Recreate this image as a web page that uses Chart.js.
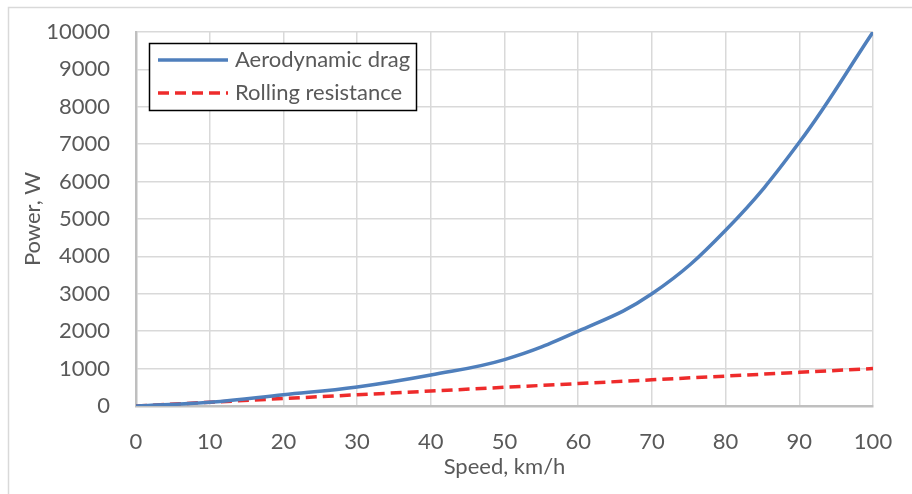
<!DOCTYPE html>
<html>
<head>
<meta charset="utf-8">
<script src="https://cdn.jsdelivr.net/npm/chart.js@4"></script>
<style>
  html, body { margin: 0; padding: 0; background: #ffffff; }
  #wrap { width: 912px; height: 494px; }
</style>
</head>
<body>
<div id="wrap"><canvas id="powerChart" width="912" height="494"></canvas></div>
<script>
// Chart data
const speeds = [0, 10, 20, 30, 40, 50, 60, 70, 80, 90, 100];
const aeroDrag = [0, 100, 300, 510, 830, 1240, 2000, 3000, 4700, 7050, 10000];
const rollingRes = [0, 100, 200, 300, 400, 500, 600, 700, 800, 900, 1000];

const FONT = "Lato, 'Open Sans', sans-serif";
const TEXT_COLOR = '#595959';

function toPoints(values) {
    return speeds.map((s, i) => ({ x: s, y: values[i] }));
}

// Frame around the whole chart plus the boxed legend inside the plot
const framePlugin = {
    id: 'frame',
    beforeDraw(chart) {
        const ctx = chart.ctx;
        ctx.save();
        ctx.strokeStyle = '#d9d9d9';
        ctx.lineWidth = 1.5;
        ctx.beginPath();
        ctx.moveTo(8.5, 494);
        ctx.lineTo(8.5, 7.5);
        ctx.lineTo(912, 7.5);
        ctx.stroke();
        ctx.restore();
    },
    afterDraw(chart) {
        const ctx = chart.ctx;
        const box = { x: 149.5, y: 43.5, w: 267, h: 67 };
        ctx.save();
        ctx.fillStyle = '#ffffff';
        ctx.fillRect(box.x, box.y, box.w, box.h);
        ctx.strokeStyle = '#000000';
        ctx.lineWidth = 1.5;
        ctx.strokeRect(box.x, box.y, box.w, box.h);
        ctx.font = '22px ' + FONT;
        ctx.textBaseline = 'middle';
        ctx.fillStyle = TEXT_COLOR;
        chart.data.datasets.forEach((ds, i) => {
            const y = 60 + i * 33;
            ctx.beginPath();
            ctx.strokeStyle = ds.borderColor;
            ctx.lineWidth = ds.borderWidth;
            ctx.setLineDash(ds.borderDash || []);
            ctx.moveTo(158, y);
            ctx.lineTo(228, y);
            ctx.stroke();
            ctx.setLineDash([]);
            ctx.fillText(ds.label, 235, y);
        });
        ctx.restore();
    }
};

const chart = new Chart(document.getElementById('powerChart'), {
    type: 'line',
    data: {
        datasets: [{
            label: 'Aerodynamic drag',
            data: toPoints(aeroDrag),
            borderColor: '#4f7fbc',
            borderWidth: 3.5,
            pointRadius: 0,
            tension: 0.4,
            fill: false
        }, {
            label: 'Rolling resistance',
            data: toPoints(rollingRes),
            borderColor: '#ee2b2b',
            borderWidth: 3.5,
            borderDash: [11, 6],
            pointRadius: 0,
            tension: 0,
            fill: false
        }]
    },
    options: {
        responsive: false,
        animation: false,
        layout: {
            padding: { left: 0, top: 32, right: 39, bottom: 0 }
        },
        plugins: {
            legend: { display: false },
            tooltip: { enabled: false }
        },
        scales: {
            x: {
                type: 'linear',
                min: 0,
                max: 100,
                afterFit(scale) {
                    scale.height = 88;
                    scale.paddingLeft = 0;
                    scale.paddingRight = 0;
                },
                ticks: {
                    stepSize: 10,
                    color: TEXT_COLOR,
                    padding: 23,
                    font: { family: FONT, size: 22 },
                    callback: (value) => String(value)
                },
                grid: { color: '#d9d9d9', lineWidth: 1.5, drawTicks: false },
                border: { color: '#bfbfbf', width: 2.5 },
                title: {
                    display: true,
                    text: 'Speed, km/h',
                    color: TEXT_COLOR,
                    font: { family: FONT, size: 22 },
                    padding: { top: 0, bottom: 14 }
                }
            },
            y: {
                min: 0,
                max: 10000,
                afterFit(scale) {
                    scale.width = 136;
                    scale.paddingTop = 0;
                    scale.paddingBottom = 0;
                },
                ticks: {
                    stepSize: 1000,
                    color: TEXT_COLOR,
                    padding: 26,
                    font: { family: FONT, size: 22 },
                    callback: (value) => String(value)
                },
                grid: { color: '#d9d9d9', lineWidth: 1.5, drawTicks: false },
                border: { color: '#bfbfbf', width: 2.5 },
                title: {
                    display: true,
                    text: 'Power, W',
                    color: TEXT_COLOR,
                    font: { family: FONT, size: 22 },
                    padding: { top: 20, bottom: 0 }
                }
            }
        }
    },
    plugins: [framePlugin]
});
</script>
</body>
</html>
